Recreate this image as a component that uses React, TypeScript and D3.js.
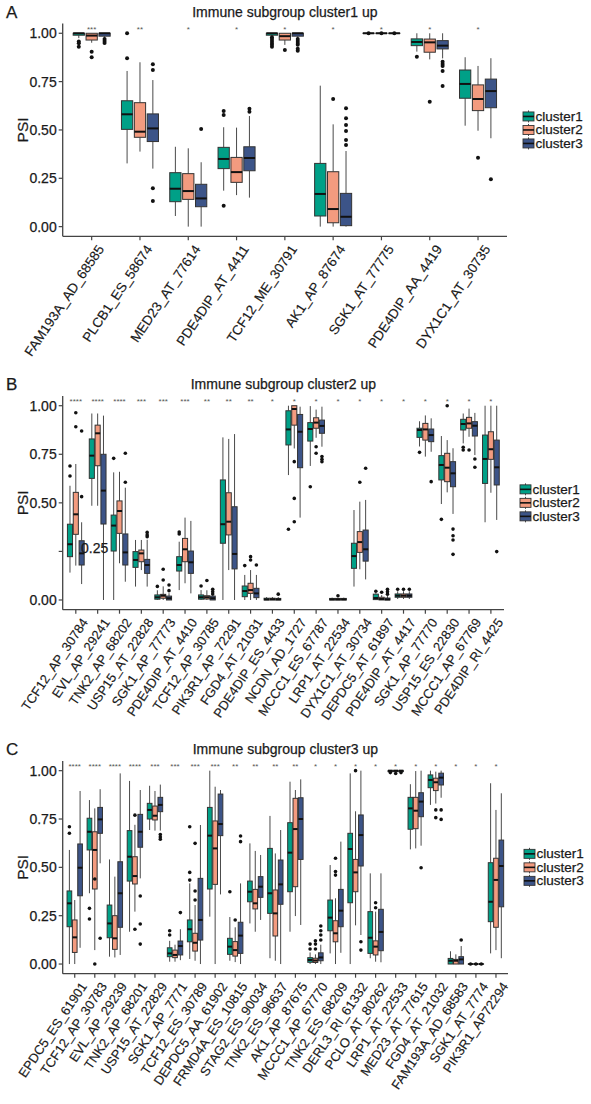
import React from 'react';
import * as d3 from 'd3';

type Stat = [number, number, number, number, number]; // [lowWhisker, q1, median, q3, highWhisker]

const clusterNames = ['cluster1', 'cluster2', 'cluster3'];
const clusterColors = ['#00A087', '#F39B7F', '#3C5488'];
const yTickValues = [0, 0.25, 0.5, 0.75, 1.0];
const yTickLabels = ['0.00', '0.25', '0.50', '0.75', '1.00'];

// ---------------- Panel A ----------------
const titleA = 'Immune subgroup cluster1 up';
const catsA = ['FAM193A_AD_68585', 'PLCB1_ES_58674', 'MED23_AT_77614', 'PDE4DIP_AT_4411', 'TCF12_ME_30791',
  'AK1_AP_87674', 'SGK1_AT_77775', 'PDE4DIP_AA_4419', 'DYX1C1_AT_30735'];
const starsA = ['***', '**', '*', '*', '*', '*', '*', '*', '*'];
const statsA1: Stat[] = [
  [0.975, 0.99, 1.0, 1.0, 1.0], [0.327, 0.503, 0.581, 0.651, 0.805], [0.055, 0.129, 0.196, 0.279, 0.413],
  [0.186, 0.30, 0.35, 0.41, 0.514], [0.985, 0.99, 1.0, 1.0, 1.0], [0.0, 0.055, 0.169, 0.327, 0.729],
  [1, 1, 1, 1, 1], [0.905, 0.936, 0.955, 0.971, 1.0], [0.522, 0.664, 0.738, 0.81, 0.876]];
const statsA2: Stat[] = [
  [0.951, 0.965, 0.988, 1.0, 1.0], [0.388, 0.462, 0.491, 0.641, 0.85], [0.0, 0.141, 0.184, 0.274, 0.405],
  [0.163, 0.229, 0.282, 0.358, 0.512], [0.94, 0.965, 0.985, 1.0, 1.0], [0.0, 0.02, 0.091, 0.284, 0.529],
  [1, 1, 1, 1, 1], [0.865, 0.902, 0.953, 0.97, 1.0], [0.496, 0.6, 0.66, 0.733, 0.831]];
const statsA3: Stat[] = [
  [0.975, 0.985, 1.0, 1.0, 1.0], [0.30, 0.44, 0.508, 0.583, 0.758], [0.0, 0.103, 0.146, 0.219, 0.333],
  [0.15, 0.289, 0.355, 0.413, 0.572], [0.975, 0.985, 1.0, 1.0, 1.0], [0.0, 0.005, 0.051, 0.172, 0.391],
  [1, 1, 1, 1, 1], [0.87, 0.919, 0.936, 0.962, 1.0], [0.457, 0.615, 0.701, 0.763, 0.871]];
const outA1: number[][] = [[0.957, 0.948, 0.93], [1.0, 0.871], [], [0.598, 0.577, 0.108],
  [0.98, 0.97, 0.96, 0.95, 0.94, 0.93], [], [1.0], [0.879], []];
const outA2: number[][] = [[0.905, 0.876], [], [], [], [0.913], [0.66], [1.0], [0.646], [0.356]];
const outA3: number[][] = [[0.97, 0.96, 0.95], [0.84, 0.81, 0.198, 0.132], [0.505], [0.61, 0.594],
  [0.97, 0.96, 0.95, 0.94, 0.92, 0.91], [0.612, 0.56, 0.525, 0.495, 0.448, 0.422], [1.0],
  [0.853, 0.841, 0.831, 0.805, 0.727], [0.245]];

// ---------------- Panel B ----------------
const titleB = 'Immune subgroup cluster2 up';
const catsB = ['TCF12_AP_30784', 'EVL_AP_29241', 'TNK2_AP_68202', 'USP15_AT_22828', 'SGK1_AP_77773',
  'PDE4DIP_AT_4410', 'TCF12_AP_30785', 'PIK3R1_AP_72291', 'FGD4_AT_21031', 'PDE4DIP_ES_4433', 'NCDN_AD_1727',
  'MCCC1_ES_67787', 'LRP1_AT_22534', 'DYX1C1_AT_30734', 'DEPDC5_AT_61897', 'PDE4DIP_AT_4417', 'SGK1_AP_77770',
  'USP15_ES_22830', 'MCCC1_AP_67769', 'PDE4DIP_RI_4425'];
const starsB = ['****', '****', '****', '***', '***', '***', '**', '**', '**', '*', '*', '*', '*', '*', '*', '*', '*', '*', '*', '*'];
const statsB1: Stat[] = [
  [0.141, 0.223, 0.287, 0.39, 0.588], [0.485, 0.626, 0.743, 0.829, 0.96], [0.0, 0.252, 0.383, 0.437, 0.657],
  [0.069, 0.168, 0.206, 0.249, 0.309], [0.0, 0.004, 0.014, 0.026, 0.05], [0.051, 0.149, 0.18, 0.223, 0.30],
  [0.0, 0.004, 0.014, 0.026, 0.051], [0.0, 0.292, 0.39, 0.618, 0.837], [0.0, 0.017, 0.046, 0.072, 0.129],
  [0.0, 0.0, 0.003, 0.009, 0.015], [0.643, 0.798, 0.878, 0.974, 1.0], [0.69, 0.818, 0.88, 0.913, 0.998],
  [0, 0, 0.003, 0.008, 0.012], [0.069, 0.163, 0.226, 0.292, 0.463], [0, 0.002, 0.01, 0.03, 0.035],
  [0.005, 0.014, 0.022, 0.031, 0.045], [0.79, 0.837, 0.875, 0.884, 0.92], [0.494, 0.618, 0.695, 0.743, 0.844],
  [0.806, 0.875, 0.906, 0.93, 0.96], [0.40, 0.60, 0.726, 0.849, 1.0]];
const statsB2: Stat[] = [
  [0.177, 0.338, 0.441, 0.554, 0.70], [0.485, 0.691, 0.858, 0.90, 0.96], [0.189, 0.343, 0.458, 0.51, 0.66],
  [0.154, 0.197, 0.24, 0.257, 0.309], [0.0, 0.009, 0.022, 0.029, 0.07], [0.086, 0.197, 0.261, 0.317, 0.424],
  [0.0, 0.005, 0.014, 0.022, 0.05], [0.154, 0.335, 0.403, 0.552, 0.829], [0.0, 0.034, 0.051, 0.086, 0.154],
  [0, 0.0, 0.004, 0.009, 0.015], [0.78, 0.90, 0.983, 1.0, 1.0], [0.835, 0.884, 0.913, 0.938, 0.98],
  [0, 0, 0.003, 0.008, 0.012], [0.158, 0.245, 0.298, 0.352, 0.506], [0, 0, 0.005, 0.014, 0.025],
  [0.005, 0.014, 0.022, 0.031, 0.045], [0.738, 0.823, 0.878, 0.909, 0.95], [0.554, 0.609, 0.681, 0.755, 0.823],
  [0.84, 0.884, 0.909, 0.94, 0.985], [0.552, 0.724, 0.776, 0.866, 1.0]];
const statsB3: Stat[] = [
  [0.082, 0.18, 0.24, 0.305, 0.40], [0.0, 0.391, 0.563, 0.75, 0.949], [0.094, 0.18, 0.245, 0.34, 0.578],
  [0.069, 0.137, 0.18, 0.209, 0.31], [0, 0.0, 0.009, 0.02, 0.035], [0.034, 0.137, 0.194, 0.252, 0.407],
  [0, 0.0, 0.009, 0.02, 0.025], [0.0, 0.16, 0.237, 0.48, 0.854], [0.0, 0.012, 0.034, 0.06, 0.129],
  [0, 0, 0.003, 0.008, 0.015], [0.424, 0.681, 0.866, 0.955, 0.995], [0.789, 0.858, 0.896, 0.926, 0.995],
  [0, 0, 0.003, 0.008, 0.012], [0.106, 0.2, 0.261, 0.36, 0.515], [0, 0, 0.003, 0.01, 0.02],
  [0.005, 0.014, 0.022, 0.031, 0.045], [0.763, 0.815, 0.849, 0.88, 0.935], [0.443, 0.583, 0.652, 0.712, 0.781],
  [0.746, 0.844, 0.897, 0.918, 0.963], [0.412, 0.592, 0.683, 0.823, 1.0]];
const outB1: number[][] = [[0.69, 0.638], [], [0.729], [], [0.07], [0.35, 0.34], [0.072], [], [0.177], [],
  [0.364], [0.583], [], [], [0.045], [0.055], [0.76], [0.415], [0.786, 0.772], []];
const outB2: number[][] = [[0.964, 0.892], [], [], [], [0.103, 0.158], [], [0.1], [], [0.223, 0.206], [],
  [0.712, 0.523, 0.403], [0.789, 0.755], [0.022], [0.606], [0.04], [0.055], [], [1.0], [0.772], []];
const outB3: number[][] = [[0.87, 0.532], [], [0.755, 0.606], [0.348, 0.335, 0.326], [0.077, 0.048], [],
  [0.055, 0.043, 0.031], [], [0.18], [0.03], [], [0.738, 0.724, 0.712], [], [0.678], [0.03, 0.043, 0.055],
  [0.055], [0.609], [0.365, 0.331, 0.309, 0.235], [0.726, 0.683], [0.249]];

// ---------------- Panel C ----------------
const titleC = 'Immune subgroup cluster3 up';
const catsC = ['EPDC5_ES_61901', 'TCF12_AP_30783', 'EVL_AP_29239', 'TNK2_AP_68201', 'USP15_AT_22829',
  'SGK1_AP_7771', 'TCF12_ES_30789', 'DEPDC5_AA_61902', 'FRMD4A_ES_10815', 'STAG2_ES_90034', 'TNK2_ES_96637',
  'AK1_AP_87675', 'MCCC1_AP_67770', 'TNK2_ES_68209', 'DERL3_RI_61332', 'PCLO_AT_80262', 'LRP1_AT_22533',
  'MED23_AT_77615', 'FGD4_AT_21032', 'FAM193A_AD_68583', 'SGK1_AT_7774', 'PIK3R1_AP72294'];
const starsC = ['****', '****', '****', '****', '***', '***', '***', '***', '**', '**', '**', '**',
  '*', '*', '*', '*', '*', '*', '*', '*', '*', '*'];
const statsC1: Stat[] = [
  [0.0, 0.193, 0.314, 0.378, 0.59], [0.366, 0.59, 0.684, 0.754, 0.848], [0.038, 0.136, 0.21, 0.305, 0.541],
  [0.167, 0.429, 0.555, 0.69, 0.947], [0.693, 0.75, 0.797, 0.831, 0.922], [0.012, 0.038, 0.055, 0.084, 0.12],
  [0.026, 0.115, 0.18, 0.228, 0.417], [0.245, 0.388, 0.664, 0.81, 1.0], [0.017, 0.05, 0.09, 0.133, 0.243],
  [0.21, 0.322, 0.374, 0.429, 0.624], [0.03, 0.262, 0.366, 0.598, 0.766], [0.167, 0.374, 0.576, 0.731, 0.943],
  [0.0, 0.009, 0.021, 0.033, 0.06], [0.055, 0.172, 0.24, 0.331, 0.512], [0.0, 0.317, 0.595, 0.676, 0.986],
  [0.03, 0.055, 0.136, 0.271, 0.469], [0.995, 0.995, 1.0, 1.0, 1.0], [0.593, 0.697, 0.805, 0.862, 0.93],
  [0.823, 0.912, 0.952, 0.978, 1.0], [0.0, 0.0, 0.017, 0.029, 0.066], [0, 0, 0, 0, 0],
  [0.055, 0.219, 0.322, 0.524, 0.935]];
const statsC2: Stat[] = [
  [0.0, 0.06, 0.138, 0.228, 0.331], [0.072, 0.388, 0.59, 0.684, 0.805], [0.034, 0.076, 0.133, 0.25, 0.452],
  [0.271, 0.414, 0.455, 0.555, 0.72], [0.69, 0.745, 0.767, 0.817, 0.895], [0.012, 0.033, 0.047, 0.072, 0.1],
  [0.017, 0.067, 0.11, 0.159, 0.305], [0.0, 0.412, 0.598, 0.74, 0.917], [0.01, 0.041, 0.072, 0.116, 0.19],
  [0.167, 0.285, 0.314, 0.386, 0.585], [0.017, 0.145, 0.262, 0.383, 0.572], [0.248, 0.4, 0.698, 0.857, 0.9],
  [0.0, 0.008, 0.018, 0.03, 0.05], [0.0, 0.115, 0.159, 0.224, 0.34], [0.2, 0.374, 0.474, 0.541, 0.79],
  [0.012, 0.047, 0.09, 0.12, 0.271], [0.995, 0.995, 1.0, 1.0, 1.0], [0.598, 0.70, 0.793, 0.862, 0.998],
  [0.83, 0.897, 0.94, 0.961, 0.995], [0.0, 0.0, 0.017, 0.024, 0.05], [0, 0, 0, 0, 0],
  [0.072, 0.19, 0.435, 0.547, 0.797]];
const statsC3: Stat[] = [
  [0.084, 0.353, 0.498, 0.621, 0.895], [0.521, 0.676, 0.748, 0.81, 0.904], [0.047, 0.19, 0.366, 0.529, 0.986],
  [0.443, 0.604, 0.684, 0.774, 0.9], [0.69, 0.788, 0.823, 0.862, 0.928], [0.02, 0.047, 0.093, 0.119, 0.18],
  [0.0, 0.124, 0.228, 0.443, 0.719], [0.36, 0.664, 0.724, 0.879, 0.9], [0.0, 0.055, 0.147, 0.216, 0.417],
  [0.228, 0.345, 0.4, 0.452, 0.564], [0.0, 0.309, 0.412, 0.538, 0.693], [0.202, 0.541, 0.75, 0.86, 0.955],
  [0.0, 0.017, 0.034, 0.058, 0.1], [0.058, 0.193, 0.276, 0.386, 0.633], [0.15, 0.507, 0.667, 0.771, 1.0],
  [0.009, 0.069, 0.166, 0.283, 0.469], [0.995, 0.995, 1.0, 1.0, 1.0], [0.612, 0.762, 0.84, 0.886, 1.0],
  [0.86, 0.926, 0.964, 0.987, 1.0], [0.0, 0.0, 0.024, 0.038, 0.093], [0, 0, 0, 0, 0],
  [0.03, 0.296, 0.507, 0.641, 0.883]];
const outC1: number[][] = [[0.71, 0.676], [0.288, 0.233], [], [], [], [0.172, 0.15], [0.71, 0.474, 0.434], [],
  [0.374], [], [], [], [0.103, 0.078], [], [], [], [0.99], [], [], [], [0.0], []];
const outC2: number[][] = [[], [0.44, 0.0], [], [0.77, 0.18], [], [], [0.624, 0.378, 0.331], [], [0.228], [], [],
  [], [0.12, 0.103, 0.078], [0.547, 0.478, 0.46], [1.0], [0.317, 0.291], [0.985], [], [0.797, 0.757], [], [0.0], []];
const outC3: number[][] = [[], [0.133], [], [0.352, 0.207, 0.103], [0.67, 0.657, 0.645], [0.266], [], [],
  [0.662, 0.633], [], [], [], [0.197, 0.172, 0.15, 0.124], [], [0.115, 0.072], [], [0.99], [0.498],
  [0.797, 0.748], [0.124], [0.0], []];

const FONT = "'Liberation Sans', Arial, Helvetica, sans-serif";

interface PanelProps {
  letter: string;
  title: string;
  titleY: number;
  cats: string[];
  stars: string[];
  stats: Stat[][];
  outs: number[][][];
  left: number;
  right: number;
  top: number;
  bottom: number;
  legendX: number;
  labelFont: number;
  pointR: number;
  shiftedTick?: { value: number; x: number; y: number };
}

function Panel(p: PanelProps) {
  const x = d3.scalePoint<string>().domain(p.cats).range([p.left, p.right]).padding(0.6);
  const y = d3.scaleLinear().domain([-0.05, 1.05]).range([p.bottom, p.top]);
  const step = x.step();
  const off = step * 0.2667;
  const bw = step * 0.2333;
  const midY = (p.top + p.bottom) / 2;
  const cx = (p.left + p.right) / 2;
  const angle = 56;
  const txt = { fontFamily: FONT, fill: '#1a1a1a', stroke: '#1a1a1a', strokeWidth: 0.25 } as const;

  return (
    <g>
      <text x={6} y={p.titleY} fontSize={17} dominantBaseline="central" {...txt}>{p.letter}</text>
      <text x={cx} y={p.titleY} fontSize={14} textAnchor="middle" dominantBaseline="central" {...txt}>{p.title}</text>
      {/* y axis label */}
      <text transform={`translate(22,${midY}) rotate(-90)`} fontSize={15.5} textAnchor="middle" dominantBaseline="central" {...txt}>PSI</text>

      {/* significance stars */}
      {p.cats.map((c, i) => (
        <text key={'s' + i} x={x(c)} y={y(1.027) + 4} fontSize={8} fontFamily={FONT} textAnchor="middle" fill="#555">{p.stars[i]}</text>
      ))}

      {/* boxes */}
      {p.cats.map((c, i) => (
        <g key={'g' + i}>
          {[0, 1, 2].map(k => {
            const s = p.stats[k][i];
            const bx = (x(c) as number) + (k - 1) * off;
            const yq1 = y(s[1]), yq3 = y(s[3]);
            return (
              <g key={k}>
                <line x1={bx} x2={bx} y1={y(s[0])} y2={yq1} stroke="#4a4a4a" strokeWidth={1} />
                <line x1={bx} x2={bx} y1={y(s[4])} y2={yq3} stroke="#4a4a4a" strokeWidth={1} />
                <rect x={bx - bw / 2} y={yq3} width={bw} height={Math.max(yq1 - yq3, 0.01)} fill={clusterColors[k]} stroke="#333" strokeWidth={1} />
                <line x1={bx - bw / 2} x2={bx + bw / 2} y1={y(s[2])} y2={y(s[2])} stroke="#111" strokeWidth={2} />
                {p.outs[k][i].map((v, j) => (
                  <circle key={j} cx={bx} cy={y(v)} r={p.pointR} fill="#111" />
                ))}
              </g>
            );
          })}
        </g>
      ))}

      {/* axes */}
      <line x1={p.left} x2={p.right} y1={p.bottom} y2={p.bottom} stroke="#444" strokeWidth={1.3} />
      <line x1={p.left} x2={p.left} y1={p.top} y2={p.bottom} stroke="#444" strokeWidth={1.3} />
      {yTickValues.map((v, i) => {
        const shifted = p.shiftedTick && p.shiftedTick.value === v;
        return (
          <g key={'yt' + i}>
            <line x1={p.left - 4} x2={p.left} y1={y(v)} y2={y(v)} stroke="#444" strokeWidth={1.2} />
            {shifted ? (
              <text x={p.shiftedTick!.x} y={p.shiftedTick!.y} fontSize={14} dominantBaseline="central" {...txt}>{yTickLabels[i]}</text>
            ) : (
              <text x={p.left - 6} y={y(v)} fontSize={14} textAnchor="end" dominantBaseline="central" {...txt}>{yTickLabels[i]}</text>
            )}
          </g>
        );
      })}
      {p.cats.map((c, i) => {
        const tx = x(c) as number;
        return (
          <g key={'xt' + i}>
            <line x1={tx} x2={tx} y1={p.bottom} y2={p.bottom + 4} stroke="#444" strokeWidth={1.2} />
            <text transform={`translate(${tx + 9},${p.bottom + 10}) rotate(-${angle})`} dy="0.35em" fontSize={p.labelFont} textAnchor="end" {...txt} strokeWidth={0.15}>{c}</text>
          </g>
        );
      })}

      {/* legend */}
      {clusterNames.map((n, k) => {
        const ly = midY + (k - 1) * 13.5;
        const kx = p.legendX;
        return (
          <g key={'l' + k}>
            <line x1={kx + 5.5} x2={kx + 5.5} y1={ly - 6} y2={ly + 6} stroke="#4a4a4a" strokeWidth={1} />
            <rect x={kx} y={ly - 4.5} width={11} height={9} fill={clusterColors[k]} stroke="#333" strokeWidth={0.9} />
            <line x1={kx} x2={kx + 11} y1={ly} y2={ly} stroke="#111" strokeWidth={1.6} />
            <text x={kx + 12.5} y={ly} fontSize={13.5} dominantBaseline="central" {...txt}>{n}</text>
          </g>
        );
      })}
    </g>
  );
}

export default function App() {
  return (
    <svg width={591} height={1104} style={{ position: 'absolute', left: 0, top: 0, background: '#fff' }}>
      <rect width={591} height={1104} fill="#fff" />
      <Panel letter="A" title={titleA} titleY={12} cats={catsA} stars={starsA}
        stats={[statsA1, statsA2, statsA3]} outs={[outA1, outA2, outA3]}
        left={62.7} right={507} top={23.6} bottom={236.3} legendX={523} labelFont={13.5} pointR={2} />
      <Panel letter="B" title={titleB} titleY={384} cats={catsB} stars={starsB}
        stats={[statsB1, statsB2, statsB3]} outs={[outB1, outB2, outB3]}
        left={62.7} right={504} top={396} bottom={609.7} legendX={520} labelFont={13} pointR={1.8}
        shiftedTick={{ value: 0.25, x: 81, y: 548 }} />
      <Panel letter="C" title={titleC} titleY={749} cats={catsC} stars={starsC}
        stats={[statsC1, statsC2, statsC3]} outs={[outC1, outC2, outC3]}
        left={62.7} right={508} top={761} bottom={973.7} legendX={524} labelFont={13} pointR={1.8} />
    </svg>
  );
}
